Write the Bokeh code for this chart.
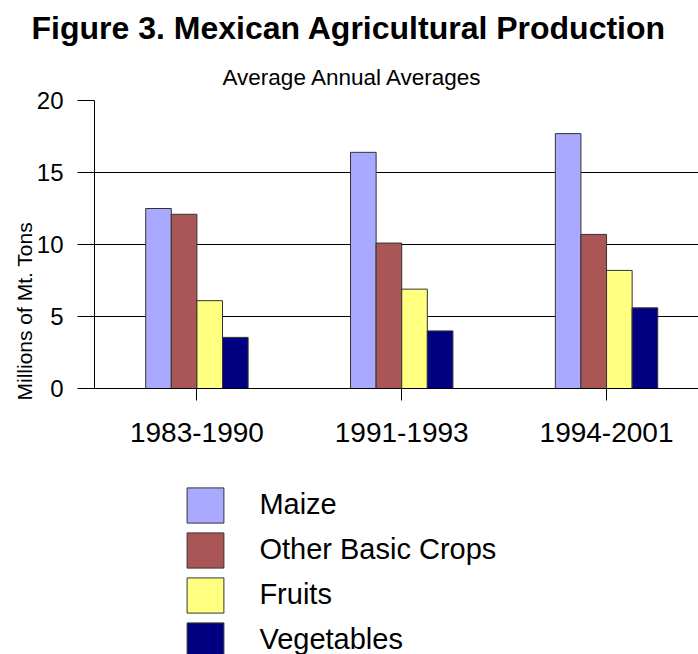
from bokeh.plotting import figure
from bokeh.layouts import column
from bokeh.models import Range1d, Title, Legend, LegendItem, FixedTicker, ColumnDataSource
from bokeh.embed import file_html
from bokeh.resources import INLINE

# ---- data ----
periods = ["1983-1990", "1991-1993", "1994-2001"]
series_names = ["Maize", "Other Basic Crops", "Fruits", "Vegetables"]
maize = [12.5, 16.4, 17.7]
other_basic_crops = [12.1, 10.1, 10.7]
fruits = [6.1, 6.9, 8.2]
vegetables = [3.55, 4.0, 5.6]
y_ticks = [0, 5, 10, 15, 20]

# ---- styles ----
colors = ["#A9A9FF", "#AB5656", "#FFFF80", "#000080"]
FONT = "Liberation Sans"
bar_w = 0.125
offsets = [-0.1875, -0.0625, 0.0625, 0.1875]
W = 698

p = figure(width=W, height=460, output_backend="svg", toolbar_location=None,
           x_range=Range1d(-0.5, 2.449), y_range=Range1d(0, 20),
           min_border_left=94, min_border_right=0, min_border_top=99,
           min_border_bottom=72)
p.outline_line_color = None
p.background_fill_color = "white"
p.border_fill_color = "white"

centers = list(range(len(periods)))
values = [maize, other_basic_crops, fruits, vegetables]
sources = []
for name, vals, col, off in zip(series_names, values, colors, offsets):
    src = ColumnDataSource(dict(x=[c + off for c in centers], top=vals))
    sources.append(src)
    p.vbar(x="x", top="top", bottom=0, width=bar_w, source=src,
           fill_color=col, line_color="#333333", line_width=1)

# grid
p.xgrid.visible = False
p.ygrid.ticker = FixedTicker(ticks=y_ticks)
p.ygrid.grid_line_color = "#000000"
p.ygrid.grid_line_width = 1

# y axis
ya = p.yaxis[0]
ya.ticker = FixedTicker(ticks=y_ticks)
ya.major_tick_out = 17
ya.major_tick_in = 0
ya.minor_tick_out = 0
ya.minor_tick_in = 0
ya.axis_line_color = "#000000"
ya.major_tick_line_color = "#000000"
ya.major_label_text_font = FONT
ya.major_label_text_font_size = "24px"
ya.major_label_text_color = "#000000"
ya.major_label_standoff = 14

# x axis
xa = p.xaxis[0]
xa.ticker = FixedTicker(ticks=centers)
xa.major_label_overrides = {c: lab for c, lab in zip(centers, periods)}
xa.major_tick_out = 12
xa.major_tick_in = 0
xa.minor_tick_out = 0
xa.minor_tick_in = 0
xa.axis_line_color = "#000000"
xa.major_tick_line_color = "#000000"
xa.major_label_text_font = FONT
xa.major_label_text_font_size = "28px"
xa.major_label_text_color = "#000000"
xa.major_label_standoff = 22

# y label as a side title
ylab = Title(text="Millions of Mt. Tons", align="left", offset=-12,
             text_font=FONT, text_font_size="21px", text_font_style="normal",
             text_color="#000000", standoff=-4.5)
p.add_layout(ylab, "left")

# titles
sub = Title(text="Average Annual Averages", align="left", offset=128,
            text_font=FONT, text_font_size="22.5px", text_font_style="normal",
            text_color="#000000", standoff=21)
p.add_layout(sub, "above")
main = Title(text="Figure 3. Mexican Agricultural Production", align="left", offset=-63,
             text_font=FONT, text_font_size="32px", text_font_style="bold",
             text_color="#000000", standoff=14)
p.add_layout(main, "above")

# legend figure (hidden renderers share the chart's sources, only the legend shows)
lf = figure(width=W, height=194, output_backend="svg", toolbar_location=None,
            x_range=Range1d(-0.5, 2.449), y_range=Range1d(0, 20),
            x_axis_type=None, y_axis_type=None,
            min_border_left=0, min_border_right=0, min_border_top=0, min_border_bottom=0)
lf.outline_line_color = None
lf.xgrid.visible = False
lf.ygrid.visible = False
lf.background_fill_color = "white"
lf.border_fill_color = "white"
items = []
for name, col, src in zip(series_names, colors, sources):
    r = lf.vbar(x="x", top="top", bottom=0, width=bar_w, source=src,
                fill_color=col, line_color="#333333", line_width=1)
    r.visible = False
    items.append(LegendItem(label=name, renderers=[r]))
leg = Legend(items=items, location=(88.4, -7.6), orientation="vertical",
             glyph_width=46, glyph_height=44, label_height=44, spacing=1,
             label_standoff=31, label_text_font=FONT, label_text_font_size="29px",
             label_text_color="#000000", border_line_color=None,
             background_fill_alpha=0, padding=0, margin=0)
lf.add_layout(leg, "center")

layout = column(p, lf, spacing=0)
open("out.html", "w").write(file_html(layout, INLINE))
